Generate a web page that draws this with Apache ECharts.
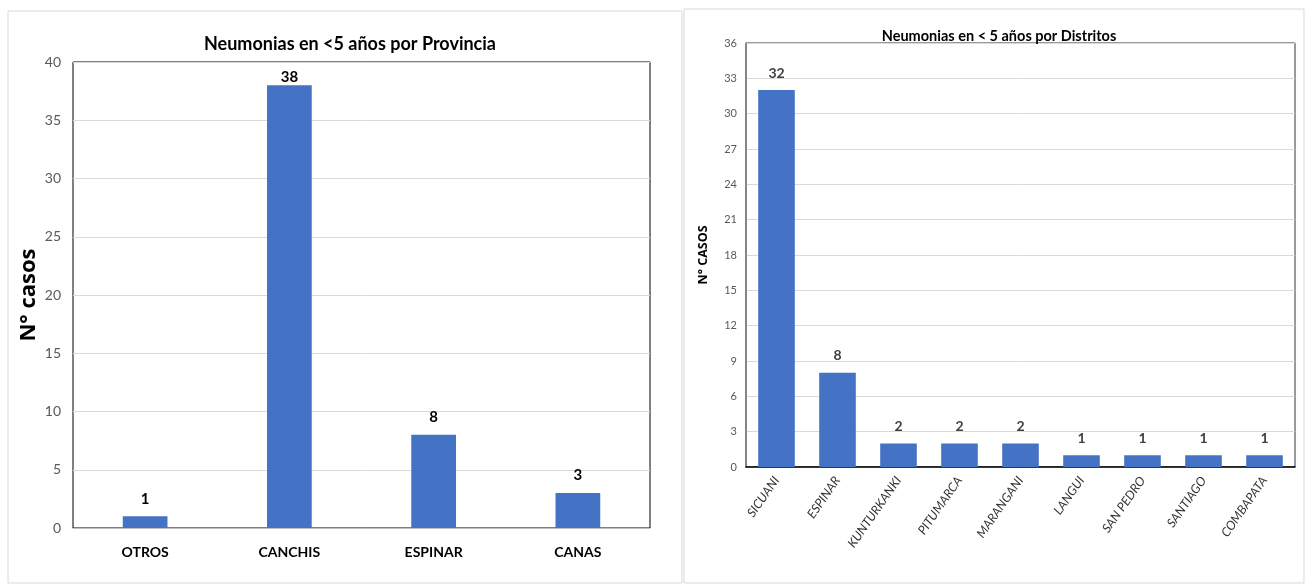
<!DOCTYPE html>
<html><head><meta charset="utf-8">
<script src="https://cdn.jsdelivr.net/npm/echarts@6/dist/echarts.min.js"></script>
<style>html,body{margin:0;padding:0;background:#fff}#c{width:1306px;height:586px}</style>
</head><body><div id="c"></div>
<script>
const provCategories = ['OTROS','CANCHIS','ESPINAR','CANAS'];
const provValues = [1,38,8,3];
const distCategories = ['SICUANI','ESPINAR','KUNTURKANKI','PITUMARCA','MARANGANI','LANGUI','SAN PEDRO','SANTIAGO','COMBAPATA'];
const distValues = [32,8,2,2,2,1,1,1,1];

const F = 'Lato,"Open Sans",sans-serif';
const provMax = 40;
// labels near the top of the plot are pulled closer to the bar (as the spreadsheet does)
const provData = provValues.map(v => v > provMax * 0.9 ? {value:v,label:{distance:1}} : v);

const chart = echarts.init(document.getElementById('c'));
chart.setOption({
  animation:false,
  backgroundColor:'#fff',
  graphic:[
    {type:'rect',shape:{x:8,y:11,width:674,height:572},style:{fill:'none',stroke:'#d9d9d9',lineWidth:1}},
    {type:'rect',shape:{x:684,y:9,width:620,height:574},style:{fill:'none',stroke:'#d9d9d9',lineWidth:1}}
  ],
  title:[
    {text:'Neumonias en <5 años por Provincia',left:345,top:30,textAlign:'center',
     textStyle:{fontFamily:F,fontSize:18,fontWeight:'bold',color:'#000'}},
    {text:'Neumonias en < 5 años por Distritos',left:994,top:24,textAlign:'center',
     textStyle:{fontFamily:F,fontSize:14.5,fontWeight:'bold',color:'#000'}}
  ],
  grid:[
    {left:73,right:656,top:62,bottom:58,show:true,borderColor:'#000',borderWidth:1},
    {left:746,right:11,top:43,bottom:119,show:true,borderColor:'#333',borderWidth:1}
  ],
  xAxis:[
    {type:'category',gridIndex:0,data:provCategories,
     axisLine:{lineStyle:{color:'#bfbfbf'}},axisTick:{show:false},
     axisLabel:{fontFamily:F,fontSize:14,fontWeight:'bold',color:'#000',margin:17}},
    {type:'category',gridIndex:1,data:distCategories,
     axisLine:{lineStyle:{color:'#000',width:1.5}},axisTick:{show:false},
     axisLabel:{fontFamily:F,fontSize:12.5,fontStyle:'italic',color:'#333',rotate:55,margin:11}}
  ],
  yAxis:[
    {type:'value',gridIndex:0,min:0,max:provMax,interval:5,
     name:'N° casos',nameLocation:'middle',nameGap:33,
     nameTextStyle:{fontFamily:'"Open Sans",sans-serif',fontSize:22,fontWeight:'bold',color:'#000'},
     axisLine:{show:false},axisTick:{show:false},
     axisLabel:{fontFamily:F,fontSize:14,color:'#595959',margin:12},
     splitLine:{lineStyle:{color:'#d9d9d9',width:1}}},
    {type:'value',gridIndex:1,min:0,max:36,interval:3,
     name:'N° CASOS',nameLocation:'middle',nameGap:36,
     nameTextStyle:{fontFamily:'"Open Sans",sans-serif',fontSize:12.5,fontWeight:'bold',color:'#000'},
     axisLine:{show:true,lineStyle:{color:'#7f7f7f',width:1.5}},axisTick:{show:false},
     axisLabel:{fontFamily:F,fontSize:11,color:'#595959',margin:9},
     splitLine:{lineStyle:{color:'#d9d9d9',width:1}}}
  ],
  series:[
    {type:'bar',xAxisIndex:0,yAxisIndex:0,data:provData,barWidth:'31%',
     itemStyle:{color:'#4472C4'},
     label:{show:true,position:'top',distance:10,fontFamily:F,fontSize:15,fontWeight:'bold',color:'#000'}},
    {type:'bar',xAxisIndex:1,yAxisIndex:1,data:distValues,barWidth:'60%',
     itemStyle:{color:'#4472C4'},
     label:{show:true,position:'top',distance:10,fontFamily:F,fontSize:14,fontWeight:'bold',color:'#404040'}}
  ]
});
</script></body></html>
